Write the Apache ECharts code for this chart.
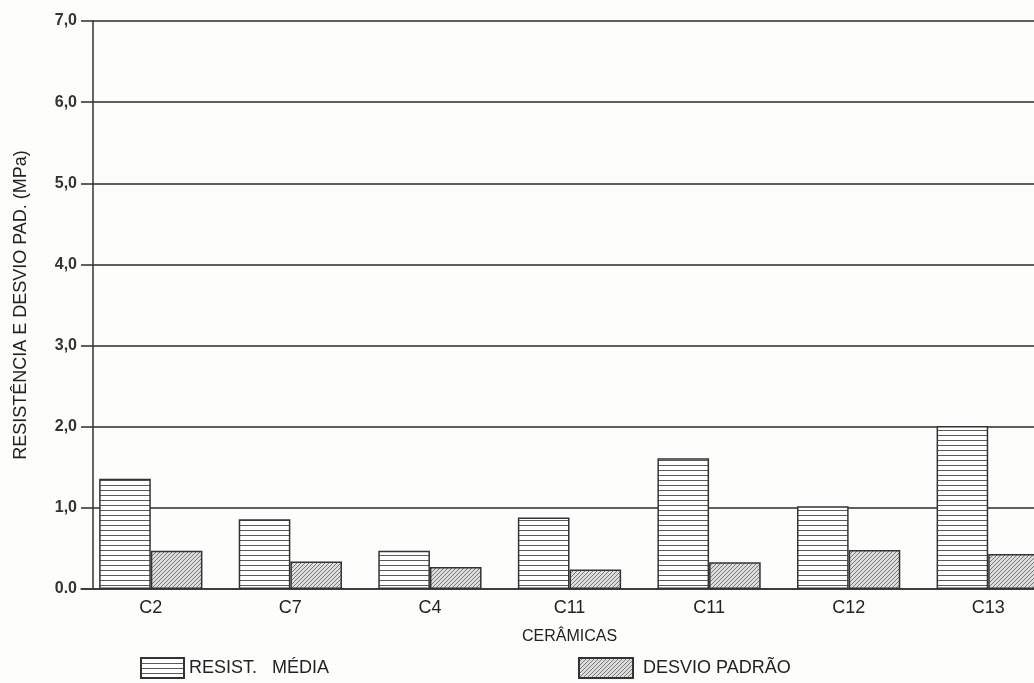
<!doctype html>
<html>
<head>
<meta charset="utf-8"/>
<title>resistencia ceramicas</title>
<script src="https://cdn.jsdelivr.net/npm/echarts@6/dist/echarts.min.js"></script>
<style>
*{margin:0;padding:0;}
html,body{overflow:hidden;}
body{background-color:#fdfdfc;}
/* o grafico continua alem da borda direita da pagina */
#main{width:1058px;height:683px;}
</style>
</head>
<body>
<div id="main"></div>
<script type="text/javascript">

// dados
var ceramicas = ['C2', 'C7', 'C4', 'C11', 'C11', 'C12', 'C13'];
var resistMedia = [1.36, 0.86, 0.47, 0.88, 1.61, 1.02, 2.01];
var desvioPadrao = [0.47, 0.34, 0.27, 0.24, 0.33, 0.48, 0.43];
var yLabels = ['0.0', '1,0', '2,0', '3,0', '4,0', '5,0', '6,0', '7,0'];

// hachuras
function stripes() {
    var c = document.createElement('canvas');
    c.width = 8; c.height = 5;
    var ctx = c.getContext('2d');
    ctx.fillStyle = '#ffffff';
    ctx.fillRect(0, 0, 8, 5);
    ctx.fillStyle = '#5a5a5a';
    ctx.fillRect(0, 0, 8, 1);
    return c;
}
function hatch() {
    var c = document.createElement('canvas');
    c.width = 4; c.height = 4;
    var ctx = c.getContext('2d');
    ctx.fillStyle = '#dcdcdc';
    ctx.fillRect(0, 0, 4, 4);
    ctx.strokeStyle = '#7a7a7a';
    ctx.lineWidth = 1;
    ctx.beginPath();
    ctx.moveTo(0, 4); ctx.lineTo(4, 0);
    ctx.stroke();
    return c;
}

var myChart = echarts.init(document.getElementById('main'));
var FONT = 'Liberation Sans';

var option = {
    animation: false,
    grid: {left: 81, right: 0, top: 21, bottom: 94, outerBoundsMode: 'none', containLabel: false},
    legend: [
        {
            data: ['RESIST. MÉDIA'],
            icon: 'rect',
            left: 140, top: 657, padding: 0,
            itemWidth: 43, itemHeight: 20,
            formatter: function () { return 'RESIST.   MÉDIA'; },
            textStyle: {fontFamily: FONT, fontSize: 18, color: '#222'}
        },
        {
            data: ['DESVIO PADRÃO'],
            icon: 'rect',
            left: 578, top: 657, padding: 0,
            itemWidth: 54, itemHeight: 20,
            textStyle: {fontFamily: FONT, fontSize: 18, color: '#222', padding: [0, 0, 0, 5]}
        }
    ],
    xAxis: {
        type: 'category',
        data: ceramicas,
        name: 'CERÂMICAS',
        nameLocation: 'middle',
        nameGap: 40,
        nameTextStyle: {fontFamily: FONT, fontSize: 16, color: '#222'},
        axisLine: {lineStyle: {color: '#333', width: 1.5}},
        axisTick: {show: false},
        axisLabel: {fontFamily: FONT, fontSize: 18, color: '#222', margin: 10}
    },
    yAxis: {
        type: 'value',
        min: 0, max: 7, interval: 1,
        offset: -12,
        name: 'RESISTÊNCIA E DESVIO PAD. (MPa)',
        nameLocation: 'middle',
        nameGap: 63,
        nameTextStyle: {fontFamily: FONT, fontSize: 18, color: '#222'},
        axisLine: {show: true, lineStyle: {color: '#333', width: 1.5}},
        axisTick: {show: false},
        axisLabel: {
            fontFamily: FONT, fontSize: 16, fontWeight: 'bold', color: '#333', margin: 16,
            formatter: function (v) { return yLabels[Math.round(v)]; }
        },
        splitLine: {lineStyle: {color: '#2a2a2a', width: 1.5}}
    },
    series: [
        {
            name: 'RESIST. MÉDIA',
            type: 'bar',
            data: resistMedia,
            barGap: '0%',
            barCategoryGap: '26%',
            itemStyle: {
                color: {image: stripes(), repeat: 'repeat'},
                borderColor: '#333', borderWidth: 1.5
            }
        },
        {
            name: 'DESVIO PADRÃO',
            type: 'bar',
            data: desvioPadrao,
            itemStyle: {
                color: {image: hatch(), repeat: 'repeat'},
                borderColor: '#333', borderWidth: 1.5
            }
        }
    ]
};
myChart.setOption(option);

</script>
</body>
</html>
